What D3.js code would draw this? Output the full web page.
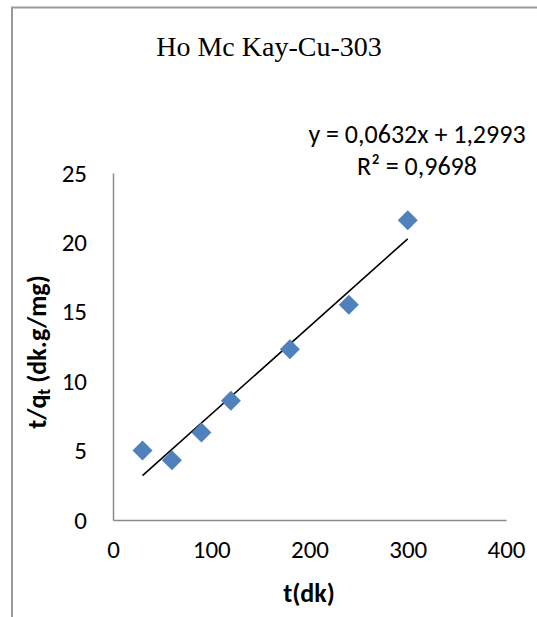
<!DOCTYPE html>
<html><head><meta charset="utf-8">
<script src="https://cdn.jsdelivr.net/npm/d3@7"></script>
<style>html,body{margin:0;padding:0;background:#fff;}svg{display:block;}</style>
</head><body>
<svg id="chart" width="537" height="617"></svg>
<script>
const title = "Ho Mc Kay-Cu-303";
const timeValues = [30, 60, 90, 120, 180, 240, 300];
const tqValues = [5.0, 4.3, 6.3, 8.6, 12.3, 15.5, 21.6];
const xTicks = [0, 100, 200, 300, 400];
const yTicks = [0, 5, 10, 15, 20, 25];
const slope = 0.0632, intercept = 1.2993;
const eqLine1 = "y = 0,0632x + 1,2993";
const eqLine2 = "R² = 0,9698";
const xTitle = "t(dk)";

const svg = d3.select("#chart");
const font = "Carlito, Calibri, 'Open Sans', sans-serif";

// outer frame
svg.append("path").attr("d", "M12,617 L12,7.5 L537,7.5")
  .attr("fill", "none").attr("stroke", "#9a9a9a").attr("stroke-width", 2);

const x = d3.scaleLinear().domain([0, 400]).range([113, 506]);
const y = d3.scaleLinear().domain([0, 25]).range([520, 173]);

// axes
const xAxis = d3.axisBottom(x).tickValues(xTicks).tickSize(0).tickPadding(20);
const gx = svg.append("g").attr("transform", "translate(0,520)").call(xAxis);
const yAxis = d3.axisLeft(y).tickValues(yTicks).tickSize(0).tickPadding(26);
const gy = svg.append("g").attr("transform", "translate(113,0)").call(yAxis);
[gx, gy].forEach(g => {
  g.select(".domain").attr("stroke", "#8c8c8c").attr("stroke-width", 1.5);
  g.selectAll("text").attr("font-family", font).attr("font-size", 25).attr("fill", "#000");
});

// trendline
const xs = d3.extent(timeValues);
svg.append("line")
  .attr("x1", x(xs[0])).attr("y1", y(slope * xs[0] + intercept))
  .attr("x2", x(xs[1])).attr("y2", y(slope * xs[1] + intercept))
  .attr("stroke", "#000").attr("stroke-width", 1.6);

// points
const sym = d3.symbol().type(d3.symbolSquare).size(200);
svg.append("g").selectAll("path").data(timeValues).join("path")
  .attr("d", sym)
  .attr("transform", (d, i) => `translate(${x(d)},${y(tqValues[i])}) rotate(45)`)
  .attr("fill", "#4F81BD");

// title
svg.append("text").attr("x", 269).attr("y", 56).attr("text-anchor", "middle")
  .attr("font-family", "'Liberation Serif', 'Times New Roman', serif").attr("font-size", 28)
  .text(title);

// equation
svg.append("text").attr("x", 417).attr("y", 143).attr("text-anchor", "middle")
  .attr("font-family", font).attr("font-size", 26).text(eqLine1);
svg.append("text").attr("x", 417).attr("y", 175).attr("text-anchor", "middle")
  .attr("font-family", font).attr("font-size", 26).text(eqLine2);

// x title
svg.append("text").attr("x", 309).attr("y", 602).attr("text-anchor", "middle")
  .attr("font-family", font).attr("font-size", 26).attr("font-weight", "bold").text(xTitle);

// y title
const yt = svg.append("text").attr("transform", "translate(46,352) rotate(-90)")
  .attr("text-anchor", "middle").attr("font-family", font).attr("font-size", 26).attr("font-weight", "bold");
yt.append("tspan").text("t/q");
yt.append("tspan").attr("dy", 4).attr("font-size", 17).text("t");
yt.append("tspan").attr("dy", -4).text(" (dk.g/mg)");
</script>
</body></html>
